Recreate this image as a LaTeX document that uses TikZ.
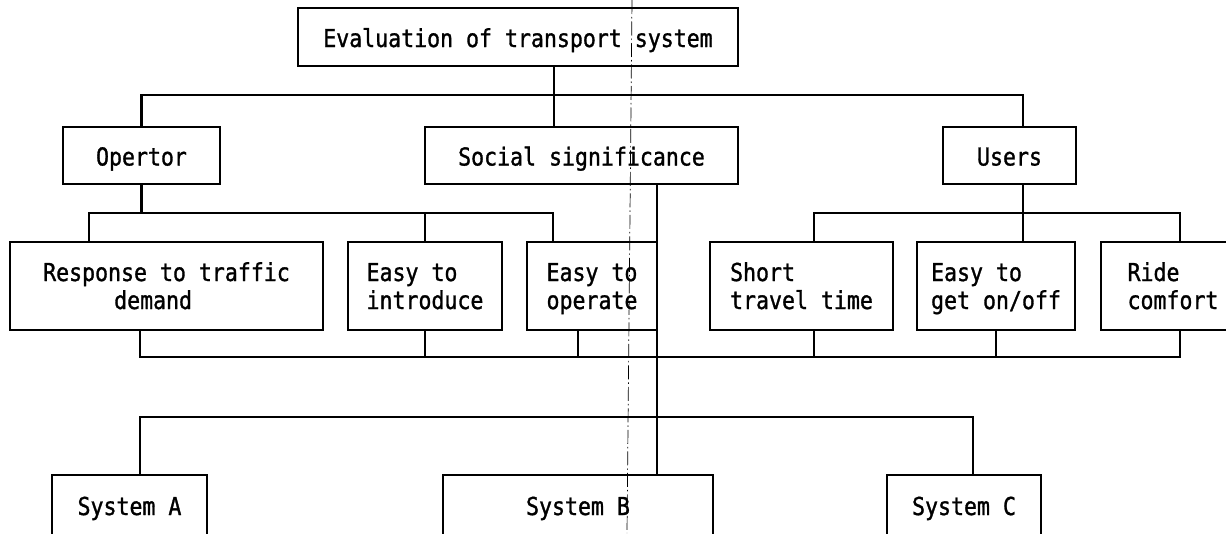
\documentclass[tikz,border=0pt]{standalone}
\usepackage{fontspec}
\newfontfamily\gfont[FakeStretch=0.873,FakeBold=1.2]{DejaVu Sans Mono}
\begin{document}
\begin{tikzpicture}[x=1pt,y=-1pt,
  ln/.style={line width=2.4pt, line cap=rect, line join=miter},
  bx/.style={draw, line width=2.4pt, inner sep=0pt, align=left,
             font=\gfont\fontsize{24.7}{28}\selectfont},
  one/.style={text height=20pt, text depth=0pt},
  two/.style={text height=46pt, text depth=0pt},
  fold/.style={line width=0.7pt, dash pattern=on 14pt off 3pt on 1.5pt off 3pt}]
\useasboundingbox (0,0) rectangle (1226,533);
\clip (0,0) rectangle (1226,533);

% boxes
\node[bx, one, minimum width=440pt, minimum height=58pt] (top) at (518,37) {Evaluation of transport system};
\node[bx, one, minimum width=157pt, minimum height=57pt] (opertor) at (141.5,155.5) {Opertor};
\node[bx, one, minimum width=313pt, minimum height=57pt] (social) at (581.5,155.5) {Social significance};
\node[bx, one, minimum width=133pt, minimum height=57pt] (users) at (1009.5,155.5) {Users};

\node[bx, two, minimum width=313pt, minimum height=88pt] (resp) at (166.5,286) {Response to traffic\\\hspace*{71pt}demand};
\node[bx, two, minimum width=154pt, minimum height=88pt] (intro) at (425,286) {Easy to\\introduce};
\node[bx, two, minimum width=130pt, minimum height=88pt] (oper) at (592,286) {Easy to\\operate};
\node[bx, two, minimum width=183pt, minimum height=88pt] (short) at (801.5,286) {Short\\travel time};
\node[bx, two, minimum width=158pt, minimum height=88pt] (geton) at (996,286) {Easy to\\get on/off};
\node[bx, two, minimum width=144pt, minimum height=88pt] (ride) at (1173,286) {Ride\\comfort};

\node[bx, one, minimum width=155pt, minimum height=60pt] (sysA) at (129.5,505) {System A};
\node[bx, one, minimum width=270pt, minimum height=60pt] (sysB) at (578,505) {System B};
\node[bx, one, minimum width=154pt, minimum height=60pt] (sysC) at (964,505) {System C};

% bus levels and branch positions
\coordinate (y1) at (0,95);
\coordinate (y2) at (0,213);
\coordinate (y3) at (0,357);
\coordinate (y4) at (0,417);
\coordinate (xs) at (554,0);
\coordinate (xu) at (1023,0);
\coordinate (xr) at (89,0);
\coordinate (xo) at (553,0);
\coordinate (xsh) at (814,0);
\coordinate (xri) at (1180,0);
\coordinate (xa) at (140,0);
\coordinate (xop) at (578,0);
\coordinate (xb) at (657,0);
\coordinate (xc) at (973,0);

% level 1
\draw[ln] (top.south -| xs) -- (xs |- y1);
\draw[ln] (opertor.north) -- (opertor.north |- y1) -- (xu |- y1) -- (users.north -| xu);
\draw[ln] (xs |- y1) -- (social.north -| xs);

% level 2
\draw[ln] (opertor.south) -- (opertor.south |- y2);
\draw[ln] (resp.north -| xr) -- (xr |- y2) -- (xo |- y2) -- (oper.north -| xo);
\draw[ln] (intro.north) -- (intro.north |- y2);
\draw[ln] (users.south -| xu) -- (xu |- y2);
\draw[ln] (short.north -| xsh) -- (xsh |- y2) -- (xri |- y2) -- (ride.north -| xri);
\draw[ln] (geton.north -| xu) -- (xu |- y2);

% collecting bus
\draw[ln] (resp.south -| xa) -- (xa |- y3) -- (xri |- y3) -- (ride.south -| xri);
\draw[ln] (intro.south) -- (intro.south |- y3);
\draw[ln] (oper.south -| xop) -- (xop |- y3);
\draw[ln] (short.south -| xsh) -- (xsh |- y3);
\draw[ln] (geton.south) -- (geton.south |- y3);

% social significance to systems
\draw[ln] (social.south -| xb) -- (sysB.north -| xb);
\draw[ln] (sysA.north -| xa) -- (xa |- y4) -- (xc |- y4) -- (sysC.north -| xc);

% fold line of the page
\coordinate (f1) at (632,0);
\coordinate (f2) at (627,533);
\draw[fold] (f1) -- (f2);
\end{tikzpicture}
\end{document}
